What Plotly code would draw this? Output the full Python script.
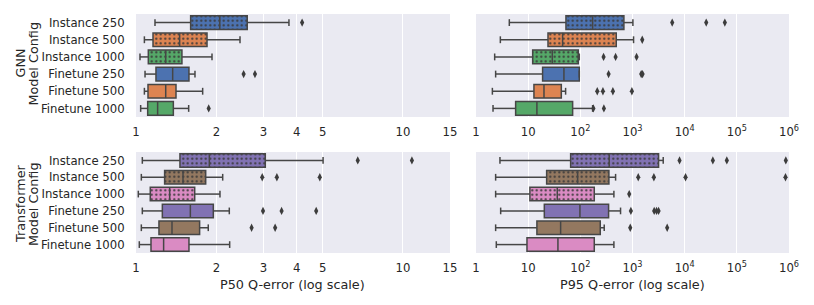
import math
import plotly.graph_objects as go

configs = ["Instance 250", "Instance 500", "Instance 1000",
           "Finetune 250", "Finetune 500", "Finetune 1000"]

# ---- GNN, P50 Q-error ----
gnn_p50_low = [1.178, 1.075, 1.035, 1.081, 1.075, 1.041]
gnn_p50_q1 = [1.602, 1.158, 1.112, 1.188, 1.109, 1.106]
gnn_p50_med = [2.06, 1.457, 1.292, 1.372, 1.292, 1.205]
gnn_p50_q3 = [2.61, 1.845, 1.486, 1.579, 1.412, 1.380]
gnn_p50_high = [3.74, 2.452, 1.926, 1.663, 1.777, 1.575]
gnn_p50_out = [[4.19], [], [], [2.53, 2.79], [], [1.872]]

# ---- GNN, P95 Q-error ----
gnn_p95_low = [4.35, 2.93, 2.28, 2.38, 2.06, 2.12]
gnn_p95_q1 = [53, 24, 12.2, 18.9, 12.9, 5.75]
gnn_p95_med = [172, 45.7, 29, 48.5, 20.1, 14.7]
gnn_p95_q3 = [684, 488, 91.3, 95.5, 43.2, 71.2]
gnn_p95_high = [1018, 1048, 95.5, 95.5, 52.2, 172]
gnn_p95_out = [[5770, 25900, 58900], [1537], [279, 474, 1197],
               [348, 1469, 1560], [211, 271, 421, 974], [178, 283]]

# ---- Transformer, P50 Q-error ----
tf_p50_low = [1.056, 1.047, 1.02, 1.056, 1.047, 1.029]
tf_p50_q1 = [1.461, 1.28, 1.131, 1.255, 1.219, 1.138]
tf_p50_med = [1.882, 1.50, 1.337, 1.598, 1.364, 1.269]
tf_p50_q3 = [3.05, 1.824, 1.659, 1.948, 1.731, 1.579]
tf_p50_high = [5.02, 2.112, 2.063, 2.236, 1.865, 2.243]
tf_p50_out = [[6.77, 10.8], [2.97, 3.37, 4.88], [], [2.99, 3.51, 4.73],
              [2.71, 3.32], []]

# ---- Transformer, P95 Q-error ----
tf_p95_low = [2.88, 2.38, 2.38, 2.97, 2.38, 2.45]
tf_p95_q1 = [65.2, 22.6, 10.8, 20.4, 14.7, 9.49]
tf_p95_med = [358, 88.7, 36.1, 98.3, 41.9, 37.2]
tf_p95_q3 = [3160, 353, 185, 348, 241, 185]
tf_p95_high = [3880, 474, 440, 590, 287, 440]
tf_p95_out = [[7980, 34700, 64300, 869000], [1288, 2570, 10400, 857000],
              [865], [931, 2605, 2890, 3160], [905, 4620], []]

gnn_colors = ["#4C72B0", "#DD8452", "#55A868"] * 2
tf_colors = ["#8172B3", "#937860", "#DA8BC3"] * 2

p50_ticks = [1, 2, 3, 4, 5, 10, 15]
p50_ticktext = ["1", "2", "3", "4", "5", "10", "15"]
p95_ticks = [1, 10, 100, 1e3, 1e4, 1e5, 1e6]
p95_ticktext = ["1", "10", "10<sup>2</sup>", "10<sup>3</sup>", "10<sup>4</sup>",
                "10<sup>5</sup>", "10<sup>6</sup>"]

EDGE = "#464646"
TEXT = "#262626"
FONT = "DejaVu Sans"
TICK_SIZE = 11.7
LABEL_SIZE = 12.8

panels = [
    ("x", "y", gnn_p50_low, gnn_p50_q1, gnn_p50_med, gnn_p50_q3, gnn_p50_high, gnn_p50_out, gnn_colors),
    ("x2", "y2", gnn_p95_low, gnn_p95_q1, gnn_p95_med, gnn_p95_q3, gnn_p95_high, gnn_p95_out, gnn_colors),
    ("x3", "y3", tf_p50_low, tf_p50_q1, tf_p50_med, tf_p50_q3, tf_p50_high, tf_p50_out, tf_colors),
    ("x4", "y4", tf_p95_low, tf_p95_q1, tf_p95_med, tf_p95_q3, tf_p95_high, tf_p95_out, tf_colors),
]

fig = go.Figure()
BW = 0.8
for xa, ya, low, q1, med, q3, high, outs, cols in panels:
    for j, name in enumerate(configs):
        inst = name.startswith("Instance")
        fig.add_trace(go.Bar(
            x=[q3[j] - q1[j]], base=[q1[j]], y=[j], orientation="h", width=BW,
            marker=dict(color=cols[j], line=dict(color=EDGE, width=1.5),
                        pattern=dict(shape="." if inst else "", fgcolor="#3a3a3a",
                                     bgcolor=cols[j], fillmode="replace",
                                     size=4.5, solidity=0.18)),
            xaxis=xa, yaxis=ya, showlegend=False, hoverinfo="skip"))
    wx, wy, cx, cy, mx, my, ox, oy = [], [], [], [], [], [], [], []
    for j in range(len(configs)):
        wx += [low[j], q1[j], None, q3[j], high[j], None]
        wy += [j, j, None, j, j, None]
        cx += [low[j], low[j], None, high[j], high[j], None]
        cy += [j - BW / 4, j + BW / 4, None, j - BW / 4, j + BW / 4, None]
        mx += [med[j], med[j], None]
        my += [j - BW / 2, j + BW / 2, None]
        ox += outs[j]
        oy += [j] * len(outs[j])
    for X, Y in ((wx, wy), (cx, cy), (mx, my)):
        fig.add_trace(go.Scatter(x=X, y=Y, mode="lines", line=dict(color=EDGE, width=1.5),
                                 xaxis=xa, yaxis=ya, showlegend=False, hoverinfo="skip"))
    fig.add_trace(go.Scatter(x=ox, y=oy, mode="markers",
                             marker=dict(symbol="diamond-tall", size=6, color="#3c3c3c"),
                             xaxis=xa, yaxis=ya, showlegend=False, hoverinfo="skip"))

# page body has an 8px margin: lay out in window pixels shifted by it
OFF = 8
W, H = 814 - OFF, 305 - OFF


def px_x(p):
    return (p - OFF) / W


def px_y(p):
    return 1 - (p - OFF) / H


xl = [px_x(136), px_x(450)]
xr = [px_x(476), px_x(789)]
yt = [px_y(117), px_y(14)]
yb = [px_y(253), px_y(152)]

xcommon = dict(type="log", showgrid=True, gridcolor="white", gridwidth=1, zeroline=False,
               showline=False, ticks="outside", ticklen=4, tickcolor="rgba(0,0,0,0)",
               automargin=False,
               tickfont=dict(family=FONT, size=TICK_SIZE, color=TEXT))
ycommon = dict(range=[5.5, -0.5], showgrid=False, zeroline=False, showline=False,
               ticks="outside", ticklen=8, tickcolor="rgba(0,0,0,0)", automargin=False,
               tickfont=dict(family=FONT, size=TICK_SIZE, color=TEXT))

fig.update_layout(
    template="none",
    width=W, height=H, margin=dict(l=0, r=0, t=0, b=0, autoexpand=False),
    paper_bgcolor="white", plot_bgcolor="#EAEAF2", barmode="overlay",
    font=dict(family=FONT, color=TEXT),
    xaxis=dict(domain=xl, anchor="y", range=[0, math.log10(15)], tickvals=p50_ticks,
               ticktext=p50_ticktext, **xcommon),
    xaxis2=dict(domain=xr, anchor="y2", range=[0, 6], tickvals=p95_ticks,
                ticktext=p95_ticktext, **xcommon),
    xaxis3=dict(domain=xl, anchor="y3", range=[0, math.log10(15)], tickvals=p50_ticks,
                ticktext=p50_ticktext, **xcommon),
    xaxis4=dict(domain=xr, anchor="y4", range=[0, 6], tickvals=p95_ticks,
                ticktext=p95_ticktext, **xcommon),
    yaxis=dict(domain=yt, anchor="x", tickvals=list(range(len(configs))), ticktext=configs,
               **ycommon),
    yaxis2=dict(domain=yt, anchor="x2", showticklabels=False, **ycommon),
    yaxis3=dict(domain=yb, anchor="x3", tickvals=list(range(len(configs))), ticktext=configs,
                **ycommon),
    yaxis4=dict(domain=yb, anchor="x4", showticklabels=False, **ycommon),
)

ann_font = dict(family=FONT, size=LABEL_SIZE, color=TEXT)
for text, xp, yp in (("GNN", 20, 63.5), ("Model Config", 33, 63.5),
                     ("Transformer", 20, 204), ("Model Config", 33, 204)):
    fig.add_annotation(text=text, x=px_x(xp), y=px_y(yp), xref="paper", yref="paper",
                       textangle=-90, showarrow=False, font=ann_font,
                       xanchor="center", yanchor="middle")
fig.add_annotation(text="P50 Q-error (log scale)", x=px_x(292.5), y=px_y(284), xref="paper",
                   yref="paper", showarrow=False, font=ann_font, xanchor="center", yanchor="middle")
fig.add_annotation(text="P95 Q-error (log scale)", x=px_x(632.5), y=px_y(284), xref="paper",
                   yref="paper", showarrow=False, font=ann_font, xanchor="center", yanchor="middle")

fig.write_html("out.html")
